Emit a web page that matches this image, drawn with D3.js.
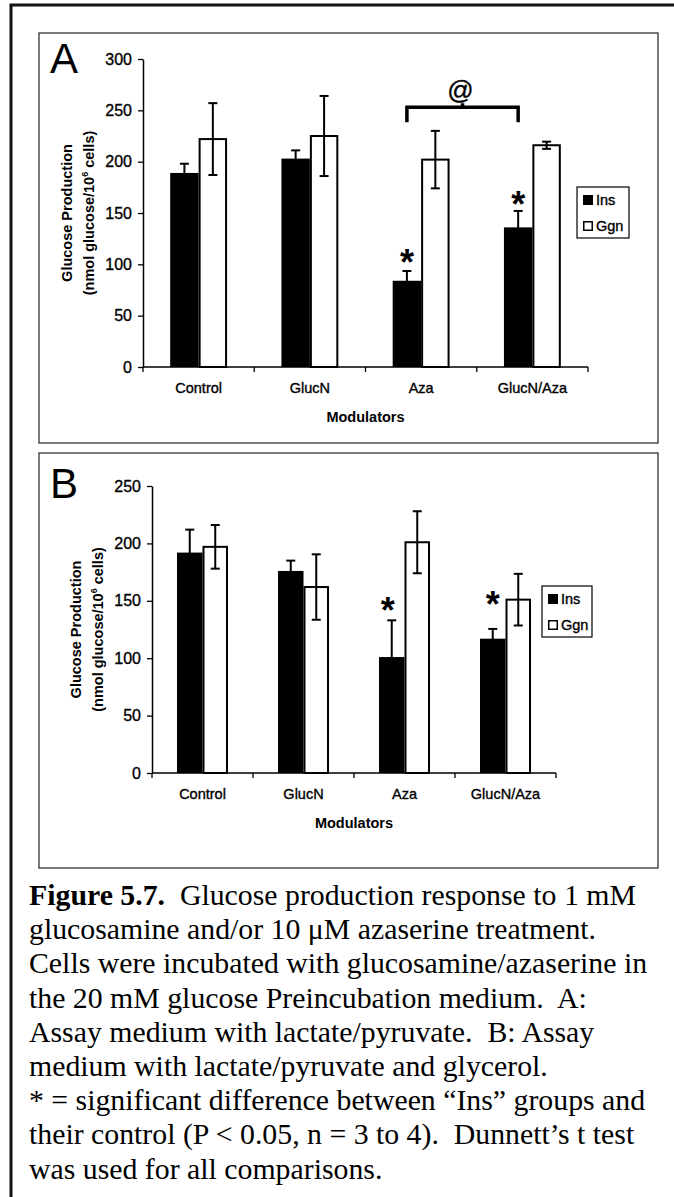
<!DOCTYPE html>
<html><head><meta charset="utf-8">
<script src="https://cdn.jsdelivr.net/npm/d3@7"></script>
<style>body{margin:0;background:#fff}svg{display:block}</style>
</head><body>
<svg id="c" width="674" height="1197"></svg>
<script>
// ---------- data ----------
const categories = ["Control", "GlucN", "Aza", "GlucN/Aza"];
const seriesNames = ["Ins", "Ggn"];

const insA = [189, 203, 84, 136];
const insAErr = [9, 8, 9.5, 16];
const ggnA = [222, 225, 202, 216];
const ggnAErr = [35, 39, 28, 3.5];
const ticksA = [0, 50, 100, 150, 200, 250, 300];
const starsA = [{category: "Aza", value: 109}, {category: "GlucN/Aza", value: 166}];
const bracketA = {from: "Aza", to: "GlucN/Aza", value: 253, label: "@"};

const insB = [192, 176, 101, 117];
const insBErr = [20, 9, 32, 8.5];
const ggnB = [197, 162, 201, 151];
const ggnBErr = [19, 28.5, 27, 22.5];
const ticksB = [0, 50, 100, 150, 200, 250];
const starsB = [{category: "Aza", value: 148}, {category: "GlucN/Aza", value: 153}];

const xTitle = "Modulators";
const yTitle1 = "Glucose Production";
const captionLines = [
  [["Figure 5.7.", true], ["  Glucose production response to 1 mM", false]],
  [["glucosamine and/or 10 \u03bcM azaserine treatment.", false]],
  [["Cells were incubated with glucosamine/azaserine in", false]],
  [["the 20 mM glucose Preincubation medium.  A:", false]],
  [["Assay medium with lactate/pyruvate.  B: Assay", false]],
  [["medium with lactate/pyruvate and glycerol.", false]],
  [["* = significant difference between \u201cIns\u201d groups and", false]],
  [["their control (P < 0.05, n = 3 to 4).  Dunnett\u2019s t test", false]],
  [["was used for all comparisons.", false]]
];

// ---------- drawing ----------
const SANS = "'Liberation Sans', Arial, sans-serif";
const SERIF = "'Liberation Serif', 'Times New Roman', serif";
const svg = d3.select("#c");
svg.append("rect").attr("width", 674).attr("height", 1197).attr("fill", "#fff");

// outer frame (left + top visible)
svg.append("path").attr("d", "M11,1200 V5 H680")
  .attr("fill", "none").attr("stroke", "#111").attr("stroke-width", 3);

function heavy(sel) { return sel.attr("stroke", "#000").attr("stroke-width", 0.35); }

function drawPanel(p) {
  const g = svg.append("g");
  g.append("rect")
    .attr("x", p.box[0]).attr("y", p.box[1])
    .attr("width", p.box[2] - p.box[0]).attr("height", p.box[3] - p.box[1])
    .attr("fill", "none").attr("stroke", "#333").attr("stroke-width", 1.3);

  g.append("text").attr("x", p.letterX).attr("y", p.letterY)
    .attr("font-family", SANS).attr("font-size", 42).text(p.letter);

  const x0 = d3.scaleBand().domain(categories).range([p.left, p.right]).padding(0);
  const x1 = d3.scaleBand().domain(seriesNames).range([0, x0.bandwidth()])
    .paddingInner(0).paddingOuter(p.outerPad);
  const y = d3.scaleLinear().domain([0, p.yMax]).range([p.bottom, p.top]);

  // y axis
  const ya = g.append("g").attr("transform", `translate(${p.left},0)`)
    .call(d3.axisLeft(y).tickValues(p.ticks).tickSize(5).tickPadding(6).tickSizeOuter(0));
  heavy(ya.selectAll("text").attr("font-family", SANS).attr("font-size", 16).attr("fill", "#000"));
  ya.selectAll("line").attr("stroke", "#000").attr("stroke-width", 1.3);
  ya.select(".domain").attr("stroke", "#000").attr("stroke-width", 1.5);

  // bars
  const series = [
    {name: "Ins", vals: p.ins, errs: p.insErr, fill: "#000"},
    {name: "Ggn", vals: p.ggn, errs: p.ggnErr, fill: "#fff"}
  ];
  const bw = x1.bandwidth();
  series.forEach(s => {
    categories.forEach((c, i) => {
      const bx = x0(c) + x1(s.name);
      if (s.fill === "#000") {
        g.append("rect").attr("x", bx).attr("y", y(s.vals[i]))
          .attr("width", bw).attr("height", y(0) - y(s.vals[i])).attr("fill", "#000");
      } else {
        g.append("rect").attr("x", bx + 1).attr("y", y(s.vals[i]))
          .attr("width", bw - 2).attr("height", y(0) - y(s.vals[i]))
          .attr("fill", "#fff").attr("stroke", "#000").attr("stroke-width", 2);
      }
    });
  });
  // error bars
  series.forEach(s => {
    categories.forEach((c, i) => {
      const cx = x0(c) + x1(s.name) + bw / 2;
      const hi = y(s.vals[i] + s.errs[i]), lo = y(s.vals[i] - s.errs[i]);
      const eg = g.append("g").attr("stroke", "#000").attr("stroke-width", 2);
      eg.append("line").attr("x1", cx).attr("x2", cx).attr("y1", hi).attr("y2", lo);
      eg.append("line").attr("x1", cx - 4.5).attr("x2", cx + 4.5).attr("y1", hi).attr("y2", hi);
      eg.append("line").attr("x1", cx - 4.5).attr("x2", cx + 4.5).attr("y1", lo).attr("y2", lo);
    });
  });

  // x axis line + boundary ticks
  g.append("line").attr("x1", p.left).attr("x2", p.right).attr("y1", y(0)).attr("y2", y(0))
    .attr("stroke", "#000").attr("stroke-width", 1.5);
  d3.range(categories.length + 1).forEach(k => {
    const tx = p.left + k * x0.step();
    g.append("line").attr("x1", tx).attr("x2", tx).attr("y1", y(0)).attr("y2", y(0) + 5)
      .attr("stroke", "#000").attr("stroke-width", 1.3);
  });
  const xa = g.append("g").attr("transform", `translate(0,${y(0)})`)
    .call(d3.axisBottom(x0).tickSize(0).tickPadding(p.labPad));
  xa.select(".domain").remove();
  heavy(xa.selectAll("text").attr("font-family", SANS).attr("font-size", 14.5).attr("fill", "#000"));

  g.append("text").attr("x", (p.left + p.right) / 2).attr("y", p.xTitleY)
    .attr("text-anchor", "middle").attr("font-family", SANS).attr("font-weight", "bold")
    .attr("font-size", 14.5).text(xTitle);

  // y title
  const yc = (p.top + p.bottom) / 2;
  g.append("text").attr("transform", `translate(${p.yT1},${yc}) rotate(-90)`)
    .attr("text-anchor", "middle").attr("font-family", SANS).attr("font-weight", "bold")
    .attr("font-size", 14.5).text(yTitle1);
  const t2 = g.append("text").attr("transform", `translate(${p.yT2},${yc}) rotate(-90)`)
    .attr("text-anchor", "middle").attr("font-family", SANS).attr("font-weight", "bold")
    .attr("font-size", 14.5);
  t2.append("tspan").text("(nmol glucose/10");
  t2.append("tspan").attr("font-size", 9).attr("dy", -6).text("6");
  t2.append("tspan").attr("dy", 6).text(" cells)");

  // stars
  p.stars.forEach(st => {
    g.append("text").attr("x", x0(st.category) + x1("Ins") + bw / 2 + (st.dx || 0))
      .attr("y", y(st.value) + 20)
      .attr("text-anchor", "middle").attr("font-family", SANS).attr("font-weight", "bold")
      .attr("font-size", 36).text("*");
  });

  // bracket
  if (p.bracket) {
    const bxa = x0(p.bracket.from) + x1("Ins") + bw / 2;
    const bxb = x0(p.bracket.to) + x1("Ins") + bw / 2;
    const by = y(p.bracket.value);
    const mid = (bxa + bxb) / 2;
    g.append("path").attr("d", `M${bxa},${by + 15} V${by} H${bxb} V${by + 15} M${mid},${by} V${by - 4}`)
      .attr("fill", "none").attr("stroke", "#000").attr("stroke-width", 3.5);
    heavy(g.append("text").attr("x", mid - 2).attr("y", by - 8).attr("text-anchor", "middle")
      .attr("font-family", SANS).attr("font-size", 26).text(p.bracket.label));
  }

  // legend
  const L = p.legend;
  g.append("rect").attr("x", L[0]).attr("y", L[1]).attr("width", L[2]).attr("height", L[3])
    .attr("fill", "#fff").attr("stroke", "#000").attr("stroke-width", 1.2);
  series.forEach((s, k) => {
    const cy = L[1] + 13 + k * 26;
    if (s.fill === "#000") {
      g.append("rect").attr("x", L[0] + 6).attr("y", cy - 5).attr("width", 10).attr("height", 10).attr("fill", "#000");
    } else {
      g.append("rect").attr("x", L[0] + 6.75).attr("y", cy - 4.25).attr("width", 8.5).attr("height", 8.5)
        .attr("fill", "#fff").attr("stroke", "#000").attr("stroke-width", 1.5);
    }
    heavy(g.append("text").attr("x", L[0] + 19).attr("y", cy + 5).attr("font-family", SANS)
      .attr("font-size", 14.5).text(s.name));
  });
}

drawPanel({
  box: [39, 33, 658, 443], letter: "A", letterX: 50, letterY: 73,
  left: 143, right: 588, top: 59, bottom: 367, yMax: 300, ticks: ticksA, outerPad: 0.956,
  ins: insA, insErr: insAErr, ggn: ggnA, ggnErr: ggnAErr,
  labPad: 16, xTitleY: 422, yT1: 72, yT2: 94,
  stars: starsA, bracket: bracketA, legend: [577, 187, 52, 51]
});
drawPanel({
  box: [39, 453, 658, 868], letter: "B", letterX: 50, letterY: 498,
  left: 152, right: 556, top: 486, bottom: 773, yMax: 250, ticks: ticksB, outerPad: 0.98,
  ins: insB, insErr: insBErr, ggn: ggnB, ggnErr: ggnBErr,
  labPad: 16, xTitleY: 828, yT1: 81, yT2: 103,
  stars: starsB.map(s => Object.assign({dx: s.category === "Aza" ? -4 : 0}, s)), bracket: null,
  legend: [542, 586, 50, 51]
});

// caption
const cap = svg.append("g").attr("font-family", SERIF).attr("font-size", 29.8).attr("fill", "#000");
captionLines.forEach((parts, i) => {
  const t = cap.append("text").attr("x", 29).attr("y", 905 + i * 34.2).style("white-space", "pre");
  parts.forEach(([txt, bold]) => {
    t.append("tspan").attr("font-weight", bold ? "bold" : "normal").text(txt);
  });
});
</script>
</body></html>
